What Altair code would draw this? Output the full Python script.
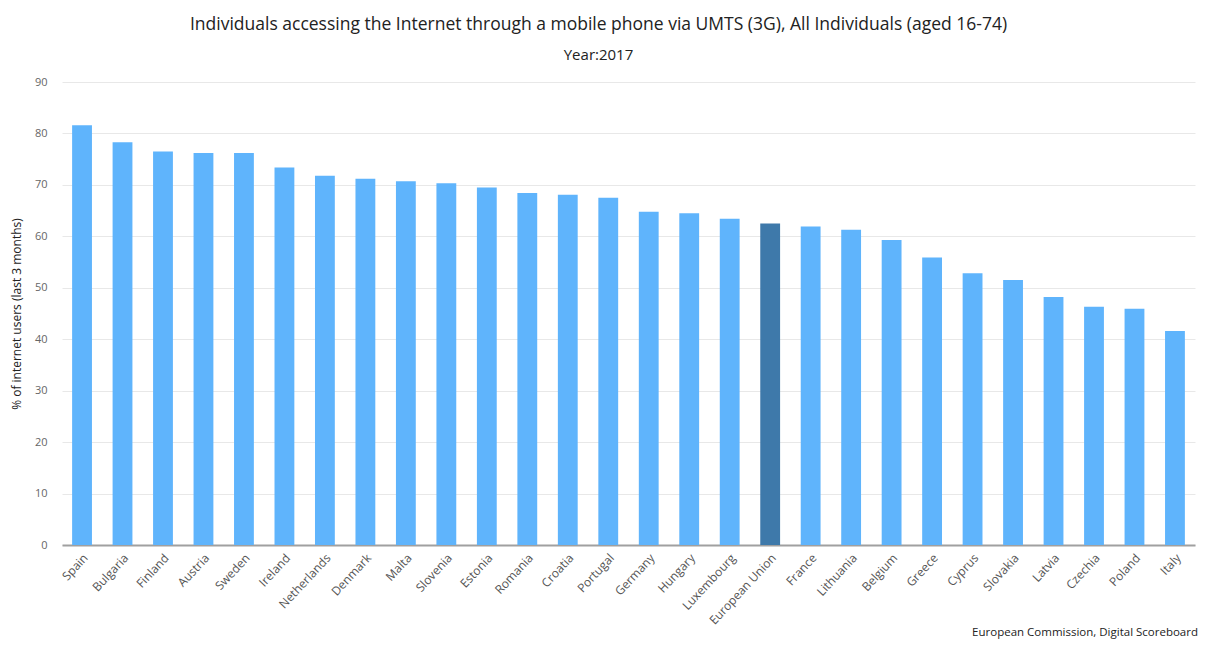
import altair as alt
import pandas as pd

countries = ["Spain", "Bulgaria", "Finland", "Austria", "Sweden", "Ireland", "Netherlands",
             "Denmark", "Malta", "Slovenia", "Estonia", "Romania", "Croatia", "Portugal",
             "Germany", "Hungary", "Luxembourg", "European Union", "France", "Lithuania",
             "Belgium", "Greece", "Cyprus", "Slovakia", "Latvia", "Czechia", "Poland", "Italy"]
values = [81.6, 78.3, 76.5, 76.2, 76.2, 73.4, 71.8,
          71.2, 70.7, 70.3, 69.5, 68.4, 68.1, 67.5,
          64.8, 64.5, 63.4, 62.5, 61.9, 61.3,
          59.3, 55.9, 52.8, 51.5, 48.2, 46.3, 45.9, 41.6]
groups = ["EU" if c == "European Union" else "Country" for c in countries]

df = pd.DataFrame({"country": countries, "value": values, "group": groups})

W, H = 1133, 463

bars = alt.Chart(df).mark_bar().encode(
    x=alt.X("country:N", sort=countries, title=None,
            scale=alt.Scale(paddingInner=0.51, paddingOuter=0.25),
            axis=alt.Axis(labelAngle=-47, labelAlign="right", labelBaseline="top",
                          labelFontSize=12, labelColor="#555", labelFont="Open Sans",
                          domainColor="#a0a0a0", domainWidth=2, ticks=False, labelPadding=7)),
    y=alt.Y("value:Q", title="% of internet users (last 3 months)",
            scale=alt.Scale(domain=[0, 90]),
            axis=alt.Axis(values=list(range(0, 100, 10)), domain=False, ticks=False,
                          labelFontSize=11, labelColor="#666", labelFont="Open Sans",
                          labelPadding=15, gridColor="#e8e8e8",
                          titleFontSize=12, titleFontWeight="normal", titleColor="#222",
                          titleFont="Open Sans", titlePadding=11)),
    color=alt.Color("group:N", scale=alt.Scale(domain=["Country", "EU"],
                                               range=["#5fb4fc", "#3e79aa"]), legend=None),
)

credits_df = pd.DataFrame({"t": ["European Commission, Digital Scoreboard"]})
credits = alt.Chart(credits_df).mark_text(
    align="right", baseline="middle", fontSize=11.5, font="Open Sans", color="#222"
).encode(text="t:N", x=alt.value(W + 3), y=alt.value(H + 88))

chart = alt.layer(bars, credits).properties(
    width=W, height=H,
    title=alt.TitleParams(
        "Individuals accessing the Internet through a mobile phone via UMTS (3G), All Individuals (aged 16-74)",
        subtitle="Year:2017", fontSize=17.5, font="Open Sans", fontWeight="normal", color="#222",
        subtitleFontSize=15, subtitleFont="Open Sans", subtitleColor="#222",
        subtitlePadding=15, offset=13, anchor="middle", dx=-30),
    autosize=alt.AutoSizeParams(type="none"),
    padding={"left": 54, "top": 74, "right": 5, "bottom": 95},
).configure_view(stroke=None)

chart.save("out.html", embed_options={"renderer": "svg", "actions": False})
